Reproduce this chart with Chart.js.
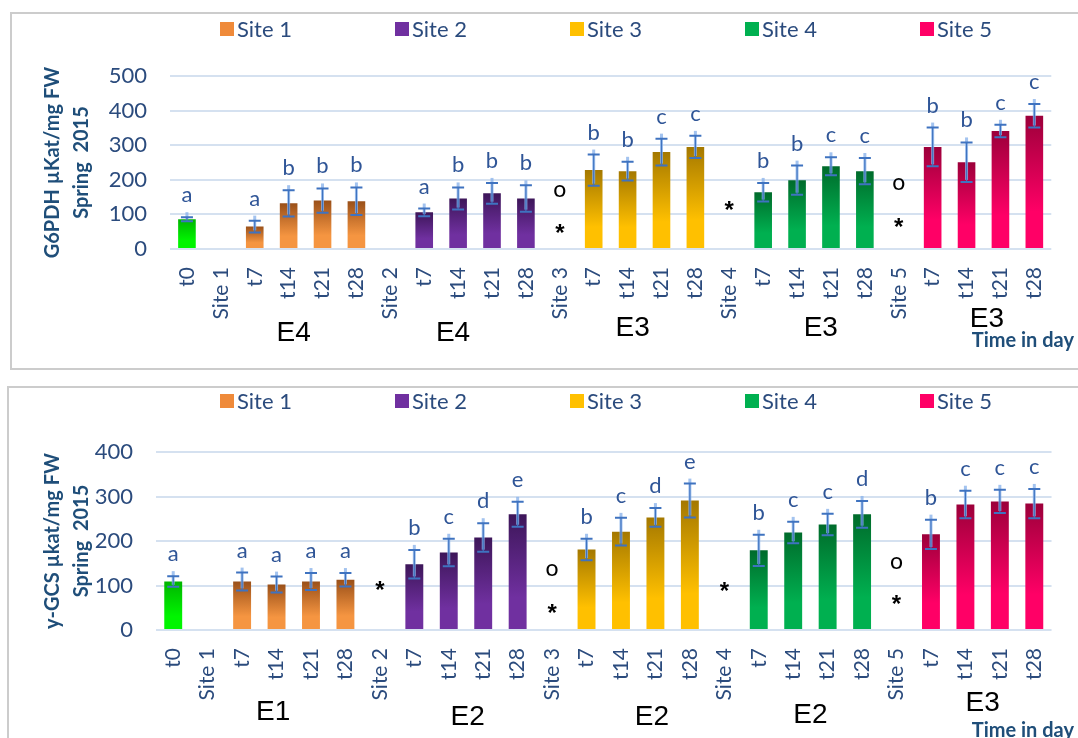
<!DOCTYPE html>
<html>
<head>
<meta charset="utf-8">
<script src="https://cdn.jsdelivr.net/npm/chart.js@4.4.1/dist/chart.umd.min.js"></script>
<style>
  body { margin: 0; background: #fff; width: 1078px; height: 738px; overflow: hidden; position: relative; }
  .box { position: absolute; border: 2px solid #cccccc; box-sizing: border-box; }
  #box1 { left: 10px; top: 12px; width: 1100px; height: 358px; }
  #box2 { left: 7px; top: 386px; width: 1100px; height: 400px; }
  canvas { position: absolute; left: 0; }
  #g6pdh { top: 0; }
  #gcs { top: 376px; }
</style>
</head>
<body>
<div class="box" id="box1"></div>
<div class="box" id="box2"></div>
<canvas id="g6pdh" width="1078" height="375" style="width:1078px;height:375px"></canvas>
<canvas id="gcs" width="1078" height="362" style="width:1078px;height:362px"></canvas>
<script>
    const categories = ['t0', 'Site 1', 't7', 't14', 't21', 't28', 'Site 2', 't7', 't14', 't21', 't28',
        'Site 3', 't7', 't14', 't21', 't28', 'Site 4', 't7', 't14', 't21', 't28', 'Site 5', 't7', 't14', 't21', 't28'];
    const siteNames = ['Site 1', 'Site 2', 'Site 3', 'Site 4', 'Site 5'];

    // index 0 = t0 control, 1..5 = sites
    const darkColors = ['#00b400', '#9a5019', '#3d1659', '#a47800', '#006b2b', '#9c003a'];
    const lightColors = ['#00f500', '#f59541', '#7030a0', '#ffc000', '#00b050', '#ff0066'];
    const legendColors = ['#ef8a3a', '#7030a0', '#ffc000', '#00b050', '#ff0066'];

    // G6PDH (top)
    const g6pdhT0 = 86, g6pdhT0Err = 6, g6pdhT0Letter = 'a';
    const g6pdhMeans = [[65, 132, 140, 138], [106, 146, 161, 146], [228, 225, 280, 295], [164, 199, 239, 225], [295, 251, 341, 385]];
    const g6pdhErrors = [[17, 38, 35, 40], [11, 32, 30, 38], [45, 27, 39, 32], [27, 42, 26, 38], [56, 57, 18, 34]];
    const g6pdhLetters = [['a', 'b', 'b', 'b'], ['a', 'b', 'b', 'b'], ['b', 'b', 'c', 'c'], ['b', 'b', 'c', 'c'], ['b', 'b', 'c', 'c']];
    const g6pdhMarks = [{ site: 3, sign: 'o', value: 172 }, { site: 3, sign: '*', value: 60 }, { site: 4, sign: '*', value: 126 },
        { site: 5, sign: 'o', value: 191 }, { site: 5, sign: '*', value: 78 }];
    const g6pdhGroups = ['E4', 'E4', 'E3', 'E3', 'E3'];
    const g6pdhTicks = [0, 100, 200, 300, 400, 500];

    // y-GCS (bottom)
    const gcsT0 = 109, gcsT0Err = 12, gcsT0Letter = 'a';
    const gcsMeans = [[109, 102, 109, 113], [148, 174, 208, 260], [181, 221, 253, 291], [179, 219, 237, 260], [215, 282, 289, 284]];
    const gcsErrors = [[20, 18, 19, 15], [32, 31, 32, 28], [24, 31, 21, 38], [35, 24, 24, 30], [33, 31, 26, 33]];
    const gcsLetters = [['a', 'a', 'a', 'a'], ['b', 'c', 'd', 'e'], ['b', 'c', 'd', 'e'], ['b', 'c', 'c', 'd'], ['b', 'c', 'c', 'c']];
    const gcsMarks = [{ site: 2, sign: '*', value: 100 }, { site: 3, sign: 'o', value: 137 }, { site: 3, sign: '*', value: 49 },
        { site: 4, sign: '*', value: 98 }, { site: 5, sign: 'o', value: 154 }, { site: 5, sign: '*', value: 68 }];
    const gcsGroups = ['E1', 'E2', 'E2', 'E2', 'E3'];
    const gcsTicks = [0, 100, 200, 300, 400];

    const BLUE = '#2b4b7d';
    const TITLE_BLUE = '#1f4e79';
    Chart.defaults.font.family = 'Lato, "Open Sans", sans-serif';

    function buildSeries(t0, t0Err, t0Letter, means, errors, letters) {
        const values = [t0], errs = [t0Err], lets = [t0Letter], owner = [0];
        means.forEach((m, s) => {
            values.push(null); errs.push(null); lets.push(null); owner.push(-1);
            m.forEach((v, j) => { values.push(v); errs.push(errors[s][j]); lets.push(letters[s][j]); owner.push(s + 1); });
        });
        return { values, errs, lets, owner };
    }

    function barFill(k) {
        return (ctx) => {
            const c = ctx.chart;
            if (!c.chartArea || ctx.raw == null) return lightColors[k];
            const ys = c.scales.y;
            const top = ys.getPixelForValue(ctx.raw), base = ys.getPixelForValue(0);
            const g = c.ctx.createLinearGradient(0, top, 0, base);
            g.addColorStop(0, darkColors[k]);
            g.addColorStop(0.72, lightColors[k]);
            g.addColorStop(1, lightColors[k]);
            return g;
        };
    }

    const annotate = {
        id: 'annotate',
        afterDatasetsDraw(chart, args, o) {
            const ctx = chart.ctx, xs = chart.scales.x, ys = chart.scales.y;
            ctx.save();

            // legend
            ctx.font = '22px Lato';
            ctx.textBaseline = 'middle';
            ctx.textAlign = 'left';
            siteNames.forEach((n, k) => {
                const x = o.legendLeft + k * o.legendStep;
                ctx.fillStyle = legendColors[k];
                ctx.fillRect(x, o.legendY - 7, 14, 14);
                ctx.fillStyle = BLUE;
                ctx.fillText(n, x + 17, o.legendY + 1);
            });

            // error bars + letters
            const s = o.series;
            s.values.forEach((v, i) => {
                if (v == null) return;
                const x = xs.getPixelForValue(i);
                const yt = ys.getPixelForValue(v + s.errs[i]);
                const yb = ys.getPixelForValue(v - s.errs[i]);
                ctx.strokeStyle = 'rgba(140,180,235,0.8)';
                ctx.lineWidth = 3;
                ctx.beginPath(); ctx.moveTo(x, yt - 5); ctx.lineTo(x, yb - 2); ctx.stroke();
                ctx.strokeStyle = '#3f73c0';
                ctx.lineWidth = 2;
                ctx.beginPath();
                ctx.moveTo(x - 6, yt); ctx.lineTo(x + 6, yt);
                ctx.moveTo(x - 6, yb); ctx.lineTo(x + 6, yb);
                ctx.stroke();
                ctx.lineWidth = 1.2;
                ctx.beginPath(); ctx.moveTo(x, yt); ctx.lineTo(x, yb); ctx.stroke();
                ctx.fillStyle = '#2f5597';
                ctx.font = '22px Lato';
                ctx.textAlign = 'center';
                ctx.textBaseline = 'alphabetic';
                ctx.fillText(s.lets[i], x, yt - 15);
            });

            // o / * marks at the site gaps
            ctx.fillStyle = '#000';
            ctx.textBaseline = 'middle';
            o.marks.forEach(m => {
                const idx = s.owner.indexOf(m.site) - 1;
                const star = m.sign === '*';
                ctx.font = star ? 'bold 24px "Liberation Sans", Arial' : '23px Lato';
                ctx.fillText(m.sign, xs.getPixelForValue(idx), ys.getPixelForValue(m.value) + (star ? 6 : 0));
            });

            // exposure groups
            ctx.font = '28px "Liberation Sans", Arial';
            o.groups.forEach((g, k) => {
                ctx.fillText(g, xs.getPixelForValue(o.groupAt[k]), o.groupY[k]);
            });

            // axis caption
            ctx.font = 'bold 20px Lato';
            ctx.fillStyle = TITLE_BLUE;
            ctx.textAlign = 'right';
            ctx.textBaseline = 'alphabetic';
            ctx.fillText('Time in day', 1074, o.timeY);
            ctx.restore();
        }
    };

    function makeChart(id, series, ticks, title, extra, yWidth, xHeight, padRight) {
        const datasets = [0, 1, 2, 3, 4, 5].map(k => ({
            label: k === 0 ? 't0' : siteNames[k - 1],
            data: series.values.map((v, i) => series.owner[i] === k ? v : null),
            backgroundColor: barFill(k),
            barPercentage: 0.52,
            categoryPercentage: 1,
            skipNull: true
        }));
        return new Chart(document.getElementById(id), {
            type: 'bar',
            data: { labels: categories, datasets },
            options: {
                responsive: false,
                animation: false,
                layout: { padding: { left: 38, right: padRight, top: 76, bottom: 0 } },
                plugins: {
                    legend: { display: false },
                    tooltip: { enabled: false },
                    annotate: Object.assign({ series }, extra)
                },
                scales: {
                    x: {
                        grid: { display: false, drawTicks: false },
                        border: { display: false },
                        ticks: { autoSkip: false, minRotation: 90, maxRotation: 90, padding: 18, color: BLUE, font: { size: 21 } },
                        afterFit: (sc) => { sc.height = xHeight; }
                    },
                    y: {
                        min: 0, max: ticks[ticks.length - 1],
                        afterBuildTicks: (sc) => { sc.ticks = ticks.map(v => ({ value: v })); },
                        grid: { color: '#d5e1f0', lineWidth: 2, drawTicks: false },
                        border: { display: false },
                        ticks: { padding: 23, color: BLUE, font: { size: 22 } },
                        title: { display: true, text: title, color: TITLE_BLUE, padding: 0, font: { size: 20, weight: 'bold', lineHeight: 1.45 } },
                        afterFit: (sc) => { sc.width = yWidth; }
                    }
                }
            },
            plugins: [annotate]
        });
    }

    const g6pdhSeries = buildSeries(g6pdhT0, g6pdhT0Err, g6pdhT0Letter, g6pdhMeans, g6pdhErrors, g6pdhLetters);
    const gcsSeries = buildSeries(gcsT0, gcsT0Err, gcsT0Letter, gcsMeans, gcsErrors, gcsLetters);

    makeChart('g6pdh', g6pdhSeries, g6pdhTicks, ['G6PDH µKat/mg FW', 'Spring  2015'], {
        marks: g6pdhMarks, groups: g6pdhGroups,
        groupAt: [3.15, 7.85, 13.15, 18.7, 23.6], groupY: [333, 333, 328, 328, 319],
        legendLeft: 220, legendStep: 175, legendY: 29, timeY: 347
    }, 132, 126, 24);

    makeChart('gcs', gcsSeries, gcsTicks, ['y-GCS µkat/mg FW', 'Spring  2015'], {
        marks: gcsMarks, groups: gcsGroups,
        groupAt: [2.9, 8.55, 13.9, 18.5, 23.5], groupY: [336, 341, 341, 339, 327],
        legendLeft: 220, legendStep: 175, legendY: 25, timeY: 361
    }, 118, 108, 26);
</script>
</body>
</html>
